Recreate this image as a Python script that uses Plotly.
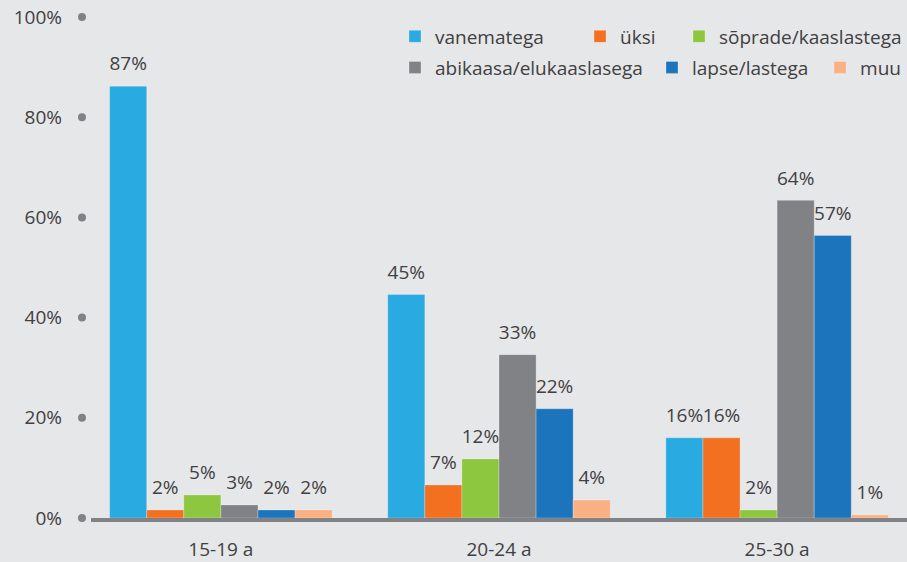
import plotly.graph_objects as go

# age groups on the x axis
categories = ["15-19 a", "20-24 a", "25-30 a"]

# share living with ... (bar heights, %)
series_names = [
    "vanematega",
    "üksi",
    "sõprade/kaaslastega",
    "abikaasa/elukaaslasega",
    "lapse/lastega",
    "muu",
]
vanematega = [86.2, 44.6, 16.0]
uksi = [1.6, 6.6, 16.0]
soprade = [4.6, 11.8, 1.6]
abikaasa = [2.6, 32.6, 63.4]
lapse = [1.6, 21.8, 56.4]
muu = [1.6, 3.6, 0.6]

# labels printed above the bars
vanematega_txt = ["87%", "45%", "16%"]
uksi_txt = ["2%", "7%", "16%"]
soprade_txt = ["5%", "12%", "2%"]
abikaasa_txt = ["3%", "33%", "64%"]
lapse_txt = ["2%", "22%", "57%"]
muu_txt = ["2%", "4%", "1%"]

y_ticks = [0, 20, 40, 60, 80, 100]
y_tick_labels = ["0%", "20%", "40%", "60%", "80%", "100%"]

colors = ["#29abe2", "#f37021", "#8dc63f", "#808285", "#1c75bc", "#fbb083"]
values = [vanematega, uksi, soprade, abikaasa, lapse, muu]
texts = [vanematega_txt, uksi_txt, soprade_txt, abikaasa_txt, lapse_txt, muu_txt]

# one small legend per series so the entries sit where the original has them
legend_ids = ["legend", "legend2", "legend3", "legend4", "legend5", "legend6"]
legend_x = [0.3912, 0.6112, 0.7289, 0.3912, 0.6968, 0.8966]
legend_y = [0.999, 0.999, 0.999, 0.937, 0.937, 0.937]

font_family = "Open Sans, Noto Sans, sans-serif"
text_color = "#414042"
bg = "#e6e7e8"

fig = go.Figure()
for name, vals, col, leg in zip(series_names, values, colors, legend_ids):
    fig.add_trace(
        go.Bar(
            x=categories,
            y=vals,
            name=name,
            marker=dict(color=col, line=dict(width=1, color="rgba(255,255,255,0.25)")),
            legend=leg,
        )
    )

# value labels: grouped scatter text so the gap above the bars can be set
for name, vals, txt in zip(series_names, values, texts):
    fig.add_trace(
        go.Scatter(
            x=categories,
            y=vals,
            text=txt,
            mode="markers+text",
            textposition="top center",
            marker=dict(size=16, color="rgba(0,0,0,0)"),
            textfont=dict(size=19, color=text_color, family=font_family),
            showlegend=False,
            hoverinfo="skip",
            cliponaxis=False,
            name=name,
        )
    )

# round dots that act as y tick marks
fig.add_trace(
    go.Scatter(
        x=[0.5] * len(y_ticks),
        y=y_ticks,
        mode="markers",
        marker=dict(size=8, color="#808285"),
        xaxis="x2",
        yaxis="y",
        showlegend=False,
        hoverinfo="skip",
        cliponaxis=False,
    )
)

legend_style = dict(
    orientation="h",
    xanchor="left",
    yanchor="top",
    bgcolor="rgba(0,0,0,0)",
    font=dict(size=19, color=text_color, family=font_family),
    itemwidth=30,
)
legends = {
    leg: dict(x=lx, y=ly, **legend_style)
    for leg, lx, ly in zip(legend_ids, legend_x, legend_y)
}

fig.update_layout(
    width=907,
    height=562,
    paper_bgcolor=bg,
    plot_bgcolor=bg,
    margin=dict(l=66, r=0, t=17, b=44, autoexpand=False),
    barmode="group",
    bargap=0.2,
    bargroupgap=0,
    scattermode="group",
    scattergap=0.2,
    font=dict(family=font_family, color=text_color),
    showlegend=True,
    **legends,
    xaxis=dict(
        domain=[25 / 841, 1],
        range=[-0.467, 2.467],
        showgrid=False,
        zeroline=False,
        showline=True,
        linecolor="#808285",
        linewidth=4,
        ticks="outside",
        ticklen=11,
        tickcolor=bg,
        tickfont=dict(size=19, color=text_color, family=font_family),
    ),
    xaxis2=dict(
        domain=[0, 32 / 841],
        range=[0, 1],
        visible=False,
        anchor="y",
    ),
    yaxis=dict(
        range=[0, 100],
        tickvals=y_ticks,
        ticktext=y_tick_labels,
        showgrid=False,
        zeroline=False,
        showline=False,
        anchor="free",
        position=0,
        ticks="",
        ticklabelstandoff=4,
        tickfont=dict(size=19, color=text_color, family=font_family),
    ),
)

fig.write_html(
    "out.html",
    config={"displayModeBar": False},
    post_script="document.body.style.margin='0';",
)
